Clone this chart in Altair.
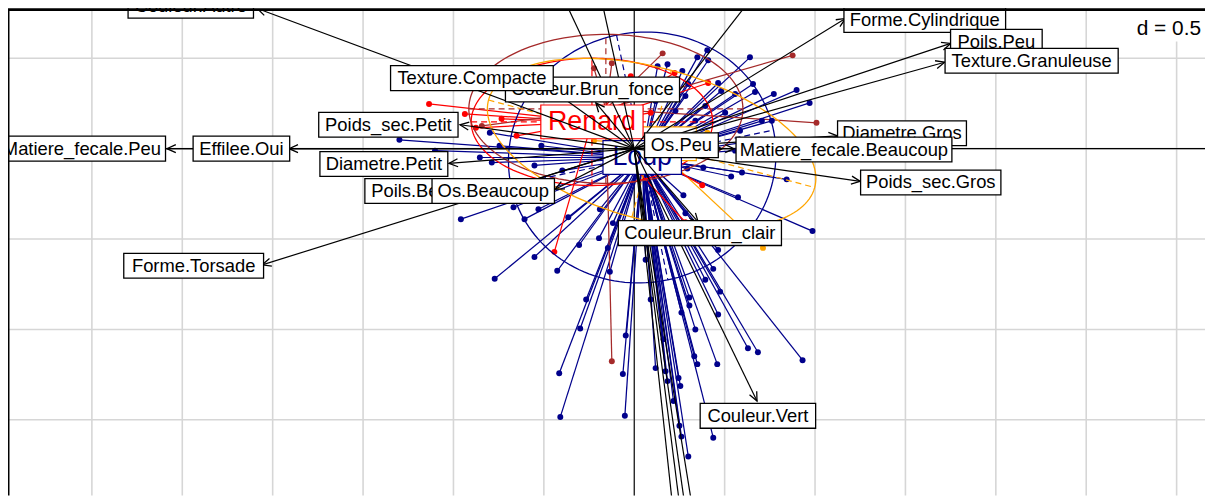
import altair as alt
import pandas as pd

# ---------------- plot window (data units, d = 0.5 grid) ----------------
XMIN, XMAX = -3.464, 3.157
YMIN, YMAX = -1.918, 0.769
W, H = 1205, 489
PX = W / (XMAX - XMIN)  # pixels per data unit

grid_x = [-3.0, -2.5, -2.0, -1.5, -1.0, -0.5, 0.0, 0.5, 1.0, 1.5, 2.0, 2.5, 3.0]
grid_y = [0.5, 0.0, -0.5, -1.0, -1.5]

# ---------------- classes ----------------
class_names = ["Loup", "Renard", "Chien", "Autre"]
class_colors = ["#00008B", "#FF0000", "#A52A2A", "#FFA500"]
class_cx = [0.044, -0.234, -0.157, 0.096]
class_cy = [-0.049, 0.148, 0.220, 0.027]
# ellipse half-axis vectors
ell_ax = [0.142, 0.668, 0.758, 0.902]
ell_ay = [-0.677, 0.0, 0.0, -0.242]
ell_bx = [0.726, 0.0, 0.0, 0.109]
ell_by = [0.152, 0.352, 0.412, 0.406]

loup_x = [0.349, 0.409, 0.404, 0.640, 0.657, 0.668, 0.772, 0.898, 0.970, 0.706, 0.761, 0.464, 0.481, 0.558, 0.129, 0.184, 0.266, 0.299,
          0.596, 0.843, 0.986, 0.382, 0.536, 0.574, 0.294, 0.272, 0.283,
          0.464, 0.437, 0.475, 0.305, 0.305, 0.261, 0.464, 0.629, 0.684, 0.931, 0.332, 0.349, 0.459, 0.118, 0.173, 0.184, 0.245, 0.255, 0.217, 0.250, 0.261, 0.299, 0.437,
          -0.959, -0.772, -0.552, -0.426, -0.305, -0.195, -0.146, -0.135, -0.047, -0.063, -0.052, -0.415, -0.409, -0.299, -0.365, -0.607, -0.530, -0.668, -0.190, -0.118, -0.854, -0.788, -0.552, -0.398, -0.514, -0.745, -1.102, -1.299, -0.799,
          0.228, 0.338, 0.393, 0.503, 0.585, 0.283, 0.448, 0.118, 0.668, 0.558,
          0.091, 0.338, 0.393, 0.063, 0.162, -0.266]
loup_y = [0.505, 0.489, 0.544, 0.505, 0.357, 0.313, 0.302, 0.324, 0.253, 0.154, 0.154, 0.363, 0.319, 0.302, 0.456, 0.467, 0.429, 0.357,
          -0.132, -0.170, -0.456, -0.104, -0.154, -0.269, -0.110, -0.258, -0.357,
          -0.560, -0.665, -0.791, -0.824, -0.868, -0.907, -0.918, -1.104, -1.126, -1.170, -1.148, -1.192, -1.192, -1.214, -1.231, -1.286, -1.269, -1.313, -1.396, -1.533, -1.593, -1.703, -1.599,
          -0.390, -0.720, -0.599, -0.676, -0.533, -0.495, -0.549, -0.681, -1.033, -1.247, -1.478, -1.242, -1.484, -0.995, -0.379, -0.390, -0.335, -0.324, -0.335, -0.412, -0.049, -0.077, -0.093, -0.121, 0.016, 0.016, -0.011, 0.049, 0.088,
          0.209, 0.154, 0.236, 0.198, 0.099, 0.291, 0.071, 0.264, 0.044, -0.011,
          -0.835, -1.000, -0.725, -0.615, -1.055, -0.835]
renard_x = [-1.135, -0.937, -0.876, -0.442, 0.223, -0.019, 0.409, 0.376, 0.283, -0.734, -0.651, 0.091]
renard_y = [0.247, 0.192, 0.115, -0.571, 0.418, 0.401, 0.363, -0.203, -0.407, 0.165, 0.071, 0.198]
chien_x = [-0.223, -0.124, 0.157, 0.876, 1.008, -0.124, -0.843]
chien_y = [0.445, 0.473, 0.527, 0.516, 0.143, -1.176, 0.126]
autre_x = [0.712, 0.404, -0.223]
autre_y = [-0.549, 0.088, 0.044]

# ---------------- variables (arrows) ----------------
var_names = ["Couleur.Autre", "Forme.Cylindrique", "Poils.Peu", "Texture.Granuleuse", "Diametre.Gros",
             "Matiere_fecale.Beaucoup", "Os.Peu", "Poids_sec.Gros", "Couleur.Brun_clair", "Couleur.Vert",
             "Forme.Torsade", "Matiere_fecale.Peu", "Effilee.Oui", "Poids_sec.Petit", "Diametre.Petit",
             "Poils.Beaucoup", "Os.Beaucoup", "Couleur.Brun_fonce", "Texture.Compacte"]
tip_x = [-2.085, 1.168, 1.750, 1.717, 1.124, 0.552, 0.486, 1.250, 0.354, 0.679,
         -2.058, -2.585, -1.909, -0.964, -1.025, -0.745, -0.437, -0.212, -0.448]
tip_y = [0.775, 0.720, 0.582, 0.478, 0.071, 0.000, 0.000, -0.181, -0.407, -1.396,
         -0.643, 0.000, 0.000, 0.132, -0.082, -0.231, -0.225, 0.253, 0.319]
lab_x = [-2.453, 1.607, 2.003, 2.198, 1.481, 1.160, 0.261, 1.640, 0.363, 0.684,
         -2.437, -3.055, -2.173, -1.360, -1.385, -1.102, -0.780, -0.231, -0.898]
lab_y = [0.791, 0.712, 0.591, 0.486, 0.085, -0.005, 0.019, -0.187, -0.467, -1.478,
         -0.648, 0.000, 0.000, 0.132, -0.085, -0.234, -0.234, 0.327, 0.390]
# arrows whose tips fall outside the window
out_tip_x = [-0.47, -0.22, 0.78, 0.236, 0.280, 0.312, 0.356]
out_tip_y = [1.0, 1.0, 1.0, -2.2, -2.2, -2.2, -2.2]

# ---------------- tables ----------------
rows = []
for name, xs, ys in [("Loup", loup_x, loup_y), ("Autre", autre_x, autre_y),
                     ("Renard", renard_x, renard_y), ("Chien", chien_x, chien_y)]:
    k = class_names.index(name)
    for a, b in zip(xs, ys):
        rows.append({"cls": name, "x": a, "y": b, "cx": class_cx[k], "cy": class_cy[k]})
star_df = pd.DataFrame(rows)

cls_df = pd.DataFrame({"cls": class_names, "cx": class_cx, "cy": class_cy,
                       "ax": ell_ax, "ay": ell_ay, "bx": ell_bx, "by": ell_by})
arrow_df = pd.DataFrame({"tx": tip_x + out_tip_x, "ty": tip_y + out_tip_y})
lab_df = pd.DataFrame({"name": var_names, "lx": lab_x, "ly": lab_y, "k": list(range(len(var_names)))})
one = pd.DataFrame({"a": [0]})


# ---------------- helpers ----------------
def X(f):
    return alt.X(f, type="quantitative", axis=None,
                 scale=alt.Scale(domain=[XMIN, XMAX], nice=False, zero=False))


def Y(f):
    return alt.Y(f, type="quantitative", axis=None,
                 scale=alt.Scale(domain=[YMIN, YMAX], nice=False, zero=False))


COL = alt.Color("cls:N", scale=alt.Scale(domain=class_names, range=class_colors), legend=None)
STR = alt.Stroke("cls:N", scale=alt.Scale(domain=class_names, range=class_colors), legend=None)


def cnt(chars, fld="datum.name"):
    return f"length(replace({fld}, regexp('[^{chars}]', 'g'), ''))"


def em(fld="datum.name"):
    return (f"(0.556*length({fld}) - 0.334*{cnt('ilj', fld)} - 0.278*{cnt('tf.', fld)}"
            f" - 0.223*{cnt('r', fld)} + 0.144*{cnt('A-Z', fld)} - 0.056*{cnt('csxyvk', fld)}"
            f" + 0.25*{cnt('mw', fld)})")


layers = []
# grid
layers.append(alt.Chart(pd.DataFrame({"g": grid_x})).mark_rule(color="#d6d6d6", strokeWidth=1.6).encode(x=X("g")))
layers.append(alt.Chart(pd.DataFrame({"g": grid_y})).mark_rule(color="#d6d6d6", strokeWidth=1.6).encode(y=Y("g")))
# axes through origin
layers.append(alt.Chart(pd.DataFrame({"o": [0.0]})).mark_rule(color="black", strokeWidth=1.1).encode(x=X("o")))
layers.append(alt.Chart(pd.DataFrame({"o": [0.0]})).mark_rule(color="black", strokeWidth=1.1).encode(y=Y("o")))

# stars
layers.append(alt.Chart(star_df).mark_rule(strokeWidth=1.25, clip=True).encode(
    x=X("x"), y=Y("y"), x2="cx", y2="cy", color=COL))
layers.append(alt.Chart(star_df).mark_circle(size=36, opacity=1, clip=True).encode(
    x=X("x"), y=Y("y"), color=COL))

# ellipses
layers.append(alt.Chart(cls_df).transform_calculate(t="sequence(0, 6.34, 0.04)")
              .transform_flatten(["t"])
              .transform_calculate(ex="datum.cx + cos(datum.t)*datum.ax + sin(datum.t)*datum.bx")
              .transform_calculate(ey="datum.cy + cos(datum.t)*datum.ay + sin(datum.t)*datum.by")
              .mark_line(strokeWidth=1.3, clip=True)
              .encode(x=X("ex"), y=Y("ey"), color=COL, detail="cls:N", order=alt.Order("t:Q")))
for u, v in [("ax", "ay"), ("bx", "by")]:
    layers.append(alt.Chart(cls_df)
                  .transform_calculate(x1=f"datum.cx - datum.{u}", x2=f"datum.cx + datum.{u}")
                  .transform_calculate(y1=f"datum.cy - datum.{v}", y2=f"datum.cy + datum.{v}")
                  .mark_rule(strokeWidth=1.2, strokeDash=[6, 4], clip=True)
                  .encode(x=X("x1"), x2="x2", y=Y("y1"), y2="y2", color=COL))

# hidden class label box (orange)
layers.append(alt.Chart(cls_df).transform_filter("datum.cls == 'Autre'")
              .transform_calculate(x1=f"datum.cx - 45/{PX}", x2=f"datum.cx + 45/{PX}")
              .transform_calculate(y1=f"datum.cy - 17/{PX}", y2=f"datum.cy + 17/{PX}")
              .mark_rect(fill="white", strokeWidth=1.2)
              .encode(x=X("x1"), x2="x2", y=Y("y1"), y2="y2", stroke=STR))

# class labels Renard, Loup
for cname in ["Renard", "Loup"]:
    base = (alt.Chart(cls_df).transform_filter(f"datum.cls == '{cname}'")
            .transform_calculate(wpx=f"27*{em('datum.cls')} + 15")
            .transform_calculate(x1=f"datum.cx - datum.wpx/2/{PX}", x2=f"datum.cx + datum.wpx/2/{PX}")
            .transform_calculate(y1=f"datum.cy - 17/{PX}", y2=f"datum.cy + 17/{PX}"))
    layers.append(base.mark_rect(fill="white", strokeWidth=1.2).encode(
        x=X("x1"), x2="x2", y=Y("y1"), y2="y2", stroke=STR))
    layers.append(base.mark_text(font="Liberation Sans", fontSize=27, baseline="middle", align="center").encode(
        x=X("cx"), y=Y("cy"), text="cls:N", color=COL))

# arrows
layers.append(alt.Chart(arrow_df).transform_calculate(ox="0", oy="0")
              .mark_rule(color="black", strokeWidth=1.2, clip=True)
              .encode(x=X("ox"), y=Y("oy"), x2="tx", y2="ty"))
layers.append(alt.Chart(arrow_df)
              .transform_calculate(ang="(atan2(-datum.ty, datum.tx)*180/PI + 360) % 360")
              .mark_point(shape="M -1 -0.45 L 0 0 L -1 0.45", filled=False, color="black",
                          strokeWidth=1.3, size=320, opacity=1, clip=True)
              .encode(x=X("tx"), y=Y("ty"), angle=alt.Angle("ang:Q", scale=None)))

# variable labels
lab_base = (alt.Chart(lab_df)
            .transform_calculate(wpx=f"18*{em()} + 15")
            .transform_calculate(x1=f"datum.lx - datum.wpx/2/{PX}", x2=f"datum.lx + datum.wpx/2/{PX}")
            .transform_calculate(y1=f"datum.ly - 12.5/{PX}", y2=f"datum.ly + 12.5/{PX}"))
for i in range(len(var_names)):
    b = lab_base.transform_filter(f"datum.k == {i}")
    layers.append(b.mark_rect(fill="white", stroke="black", strokeWidth=1.3).encode(
        x=X("x1"), x2="x2", y=Y("y1"), y2="y2"))
    layers.append(b.mark_text(font="Liberation Sans", fontSize=18.5, color="black",
                              baseline="middle", align="center").encode(
        x=X("lx"), y=Y("ly"), text="name:N"))

# frame (left / top) and scale annotation
layers.append(alt.Chart(one).mark_rule(color="black", strokeWidth=3).encode(x=alt.value(0)))
layers.append(alt.Chart(one).mark_rule(color="black", strokeWidth=3).encode(y=alt.value(0)))
layers.append(alt.Chart(one).mark_rect(fill="white").encode(
    x=alt.value(1122), x2=alt.value(1205), y=alt.value(1.5), y2=alt.value(32)))
layers.append(alt.Chart(one).mark_text(font="Liberation Sans", fontSize=21, align="right",
                                       baseline="middle", color="black").encode(
    x=alt.value(1201), y=alt.value(20), text=alt.value("d = 0.5")))

chart = (alt.layer(*layers)
         .properties(width=W, height=H, padding=0, background="white",
                     autosize=alt.AutoSizeParams(type="none"))
         .configure_view(stroke=None))

chart.save("out.html", embed_options={"renderer": "svg", "actions": False})
